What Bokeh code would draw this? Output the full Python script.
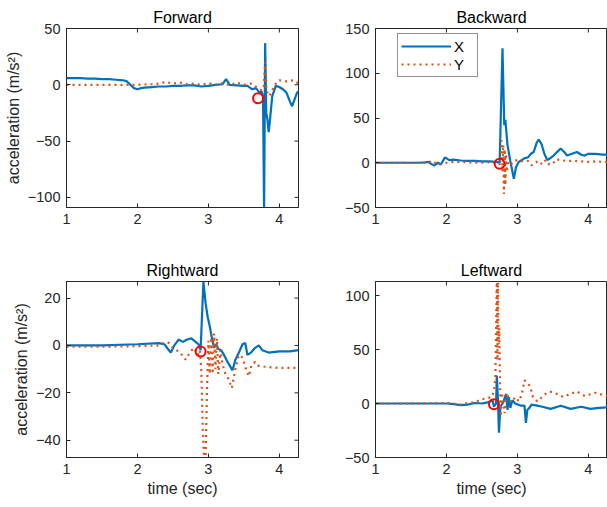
import math
from bokeh.plotting import figure
from bokeh.models import Range1d, FixedTicker, Legend, LegendItem
from bokeh.layouts import column, row
from bokeh.embed import file_html
from bokeh.resources import INLINE

# ---------------- data ----------------
titles = ["Forward", "Backward", "Rightward", "Leftward"]
x_ticks = [1, 2, 3, 4]
series_labels = ["X", "Y"]

fw_xt = [1.00, 1.10, 1.20, 1.30, 1.40, 1.50, 1.60, 1.70, 1.80, 1.85, 1.90, 1.95, 2.00, 2.05, 2.10,
         2.20, 2.30, 2.40, 2.50, 2.60, 2.70, 2.80, 2.90, 3.00, 3.10, 3.20, 3.25, 3.30, 3.40, 3.50, 3.55,
         3.62, 3.67, 3.72, 3.75, 3.77, 3.785, 3.80, 3.815, 3.83, 3.85, 3.87, 3.90, 3.95,
         4.00, 4.05, 4.10, 4.15, 4.18, 4.22, 4.25, 4.27]
fw_x = [6, 6, 6, 5.5, 5.5, 5, 5, 4.5, 4, 3, 0, -3, -4, -3, -2.5,
        -2, -1.5, -1.5, -1, -1, -0.5, -0.5, -1.5, -1, 0, 0.5, 5, 0, -0.5, -1, -1,
        -4, -3, -7, -6, -10, -115, 37, -25, -30, -42, -30, -10, -1,
        -2, -4, -7, -15, -19, -12, -7, -6]
fw_yt = [1.00, 1.20, 1.40, 1.60, 1.80, 2.00, 2.20, 2.30, 2.40, 2.50, 2.60, 2.70, 2.80, 2.90,
         3.00, 3.10, 3.20, 3.30, 3.40, 3.50, 3.60, 3.70, 3.75, 3.78, 3.80, 3.82, 3.85, 3.88,
         3.92, 3.96, 4.00, 4.10, 4.20, 4.25, 4.27]
fw_y = [0, 0, 0, 0, 0, 0, 0.5, 1, 2.5, 1, 2, 0.5, 1, 0,
        1.5, 0, 1.5, -0.5, 2, 0, 1, -3, -5, -2, 20, -5, -10, -8,
        -2, 2, 4, 3, 4, 2, 0]
fw_event = (3.70, -12)
fw_yrange = (-109, 50)
fw_yticks = [-100, -50, 0, 50]

bw_xt = [1.00, 1.20, 1.40, 1.60, 1.70, 1.74, 1.80, 1.83, 1.88, 1.92, 1.98, 2.04, 2.10, 2.20, 2.30,
         2.40, 2.50, 2.60, 2.70, 2.75, 2.79, 2.815, 2.83, 2.86, 2.90, 2.95, 2.98, 3.02, 3.06, 3.10,
         3.15, 3.19, 3.23, 3.27, 3.30, 3.34, 3.38, 3.42, 3.46, 3.51, 3.56, 3.61, 3.66, 3.70, 3.77,
         3.84, 3.90, 3.95, 4.00, 4.10, 4.20, 4.27]
bw_x = [0, 0, 0, 0, 0.5, 1, -2, -3, 0, -2, 6, 3, 3.5, 2.5, 2,
        2, 1.5, 1.5, 1, 0, 128, 42, 48, 20, 2, -18, -5, 1, 3, 5,
        6, 10, 12, 22, 26, 21, 10, 3, 5, 8, 12, 16, 12, 8, 10,
        12, 9, 8, 10, 10, 9, 9]
bw_yt = [1.00, 1.20, 1.40, 1.60, 1.70, 1.75, 1.80, 1.85, 1.90, 2.00, 2.10, 2.20, 2.30, 2.40,
         2.50, 2.60, 2.70, 2.75, 2.77, 2.78, 2.79, 2.80, 2.81, 2.82, 2.83, 2.84, 2.85, 2.87,
         2.90, 2.95, 3.00, 3.05, 3.10, 3.15, 3.20, 3.25, 3.30, 3.35, 3.40, 3.45, 3.50, 3.55,
         3.60, 3.70, 3.80, 3.90, 4.00, 4.10, 4.20, 4.27]
bw_y = [0, 0, 0, 0, 0, 2, -1, 0, -2, 0, 1, 1, 0.5, 0,
        0, 0.5, 0, -2, 10, 25, -10, 20, -35, 15, -25, 10, -10, 0,
        -3, 2, 3, 2, 1, 2, -3, 0, 2, -2, 3, -2, -1, 4,
        3, 2, 2, 1.5, 1, 1.5, 1, 1]
bw_event = (2.75, -1)
bw_yrange = (-50, 150)
bw_yticks = [-50, 0, 50, 100, 150]

rw_xt = [1.00, 1.50, 2.00, 2.30, 2.38, 2.43, 2.47, 2.52, 2.58, 2.64, 2.70, 2.76, 2.82, 2.86,
         2.89, 2.93, 2.96, 2.99, 3.02, 3.05, 3.08, 3.11, 3.14, 3.18, 3.22, 3.27, 3.34, 3.38,
         3.43, 3.48, 3.52, 3.55, 3.60, 3.66, 3.71, 3.76, 3.85, 4.00, 4.15, 4.27]
rw_x = [0, 0, 0.5, 1, 0.5, -1.5, -3, 0, 2.5, 1.5, 2.5, 3, 1.5, 0.5,
        -2, 27, 18, 12, 8, 3, -1, 0.5, -1.5, -2, -4, -7, -10.5, -6,
        -3, 0.5, 1, -4, -3, -1, 0, -2, -3, -2.5, -2.5, -2]
rw_yt = [1.00, 1.50, 2.00, 2.30, 2.40, 2.45, 2.50, 2.60, 2.68, 2.75, 2.80, 2.85, 2.88, 2.90,
         2.92, 2.94, 2.96, 2.98, 3.00, 3.02, 3.04, 3.06, 3.08, 3.10, 3.12, 3.14, 3.17, 3.20,
         3.24, 3.28, 3.33, 3.38, 3.42, 3.46, 3.50, 3.54, 3.57, 3.61, 3.66, 3.70, 3.80, 4.00, 4.27]
rw_y = [-0.5, -0.5, -0.3, 0, 1.5, 1, -1, -3, -6, -2.5, -1, -4, -2, -10,
        -35, -48, -48, -20, 2, -12, 4.5, -12, 5, -10, 3, -12, -2, -8,
        -12, -14, -18, -10, -5, -4, -7, -11, -13, -8, -7, -8.5, -9, -9.5, -9.5]
rw_event = (2.89, -2.6)
rw_yrange = (-47.3, 27)
rw_yticks = [-40, -20, 0, 20]

lw_xt = [1.00, 1.50, 2.00, 2.10, 2.20, 2.30, 2.40, 2.50, 2.58, 2.62, 2.65, 2.67, 2.70, 2.71,
         2.725, 2.74, 2.76, 2.80, 2.84, 2.86, 2.88, 2.90, 2.93, 2.97, 3.05, 3.10, 3.12, 3.14,
         3.17, 3.20, 3.28, 3.35, 3.47, 3.61, 3.75, 3.90, 4.03, 4.15, 4.27]
lw_x = [0, 0, 0, -0.5, -1.5, -1, 0.5, 0, 1, 2, 3, -3, 0, 26,
        5, -27, -3, 1, 9, -6, 6, -4, 3, 0, -2, -2, -18, -6,
        -4, -1, -2, -3, -5, -2, -5, -3, -5, -4, -3.5]
lw_yt = [1.00, 1.50, 2.00, 2.10, 2.20, 2.30, 2.40, 2.50, 2.58, 2.64, 2.67, 2.69, 2.71, 2.72,
         2.725, 2.735, 2.745, 2.755, 2.765, 2.78, 2.80, 2.82, 2.85, 2.88, 2.92, 2.97, 3.02, 3.06,
         3.10, 3.14, 3.18, 3.22, 3.28, 3.40, 3.46, 3.55, 3.65, 3.75, 3.84, 3.95, 4.10, 4.20, 4.27]
lw_y = [0, 0, 0.5, 0, -1, 0.5, 1, 4, 5, 6, 12, 24, 118, 40,
        118, 55, 70, 22, -12, 10, 1, -9, 10, 4, 1, 6, 2, 8,
        21.5, 19, 16, 6, 2, 9, 11, 9, 6, 9, 11, 7, 10, 8, 7]
lw_event = (2.67, -0.6)
lw_yrange = (-50, 113)
lw_yticks = [-50, 0, 50, 100]

x_range = (1, 4.27)

# ---------------- style ----------------
FONT = "Liberation Sans"
AX = "#262626"
BLUE = "#0072BD"
ORANGE = "#D95319"
TICK_FS = "14.5px"
LABEL_FS = "16px"


def style_axis(ax):
    ax.axis_line_color = AX
    ax.major_tick_line_color = AX
    ax.major_tick_in = 4
    ax.major_tick_out = 0
    ax.minor_tick_line_color = None
    ax.major_label_text_font = FONT
    ax.major_label_text_font_size = TICK_FS
    ax.major_label_text_color = AX
    ax.axis_label_text_font = FONT
    ax.axis_label_text_font_size = LABEL_FS
    ax.axis_label_text_font_style = "normal"
    ax.axis_label_text_color = AX


def make_fig(title, xt, xv, yt, yv, event, yrange, yticks, right_ticks, width, height,
             bl, br, bt, bb, ylabel, xlabel, legend):
    p = figure(width=width, height=height, output_backend="svg", toolbar_location=None,
               x_range=Range1d(*x_range), y_range=Range1d(*yrange),
               min_border_left=bl, min_border_right=br, min_border_top=bt,
               min_border_bottom=bb)
    p.title.text = title
    p.title.align = "center"
    p.title.text_font = FONT
    p.title.text_font_size = LABEL_FS
    p.title.text_font_style = "normal"
    p.title.text_color = "#000000"
    p.title.standoff = 5
    p.grid.visible = False
    p.outline_line_color = AX
    p.outline_line_alpha = 1
    p.background_fill_color = "white"
    p.border_fill_color = "white"

    p.xaxis.ticker = FixedTicker(ticks=x_ticks)
    p.yaxis.ticker = FixedTicker(ticks=yticks)
    style_axis(p.xaxis[0])
    style_axis(p.yaxis[0])
    p.xaxis.major_label_standoff = 6
    p.yaxis.major_label_standoff = 6
    if ylabel:
        p.yaxis.axis_label = "acceleration (m/s\u00b2)"
        p.yaxis.axis_label_standoff = 3
    if xlabel:
        p.xaxis.axis_label = "time (sec)"
        p.xaxis.axis_label_standoff = 3

    # inward tick marks on the top (and right) edges of the box, clipped to the frame
    p.scatter(x_ticks, [yrange[1]] * len(x_ticks), marker="dash", angle=math.pi / 2,
              size=8, line_color=AX, line_width=1)
    if right_ticks:
        p.scatter([x_range[1]] * len(yticks), yticks, marker="dash", angle=0,
                  size=8, line_color=AX, line_width=1)

    rx = p.line(xt, xv, line_color=BLUE, line_width=2.2)
    ry = p.line(yt, yv, line_color=ORANGE, line_width=2.2, line_dash="2 4")
    p.scatter([event[0]], [event[1]], marker="circle", size=10, fill_color=None,
              line_color="#FF0000", line_width=2)
    if legend:
        lg = Legend(items=[LegendItem(label=series_labels[0], renderers=[rx]),
                           LegendItem(label=series_labels[1], renderers=[ry])],
                    location=(22, 130), orientation="vertical")
        lg.label_text_font = FONT
        lg.label_text_font_size = "15px"
        lg.label_text_color = "#000000"
        lg.glyph_width = 50
        lg.glyph_height = 18
        lg.label_height = 18
        lg.label_standoff = 3
        lg.padding = 3
        lg.spacing = 0
        lg.margin = 0
        lg.border_line_color = AX
        lg.border_line_width = 1
        lg.background_fill_color = "white"
        lg.background_fill_alpha = 1
        p.add_layout(lg, "center")
    return p


p1 = make_fig(titles[0], fw_xt, fw_x, fw_yt, fw_y, fw_event, fw_yrange, fw_yticks,
              True, 307, 257, 66, 9, 28, 50, True, False, False)
p2 = make_fig(titles[1], bw_xt, bw_x, bw_yt, bw_y, bw_event, bw_yrange, bw_yticks,
              False, 300, 257, 68, 0, 28, 50, False, False, True)
p3 = make_fig(titles[2], rw_xt, rw_x, rw_yt, rw_y, rw_event, rw_yrange, rw_yticks,
              True, 307, 250, 66, 9, 21, 50, True, True, False)
p4 = make_fig(titles[3], lw_xt, lw_x, lw_yt, lw_y, lw_event, lw_yrange, lw_yticks,
              False, 300, 250, 68, 0, 21, 50, False, True, False)

layout = column(row(p1, p2), row(p3, p4))
open("out.html", "w").write(file_html(layout, INLINE))
